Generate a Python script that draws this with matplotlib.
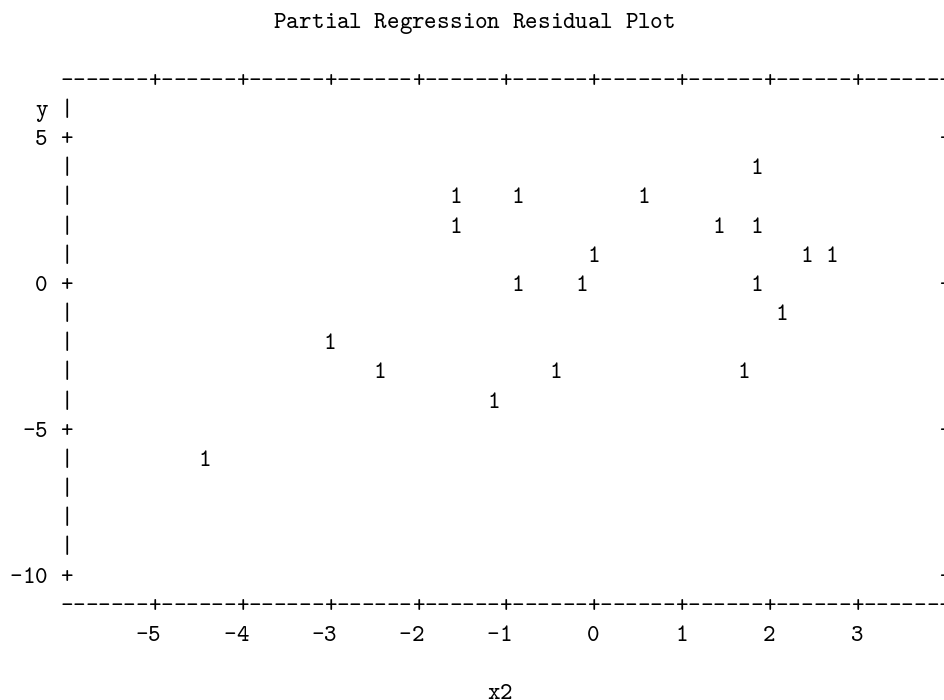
import matplotlib
matplotlib.use("Agg")
import matplotlib.pyplot as plt

# partial regression residuals (one "1" printed per observation)
x2 = [1.86, -1.57, -0.86, 0.57, -1.57, 1.43, 1.86, 0.00, 2.43, 2.71,
      -0.86, -0.14, 1.86, 2.14, -3.00, -2.43, -0.43, 1.71, -1.14, -4.43]
y = [4, 3, 3, 3, 2, 2, 2, 1, 1, 1,
     0, 0, 0, -1, -2, -3, -3, -3, -4, -6]

xticks = [-5, -4, -3, -2, -1, 0, 1, 2, 3]
yticks = [5, 0, -5, -10]

title = "Partial Regression Residual Plot"
xlabel = "x2"
ylabel = "y"

# line-printer grid: 7 print columns per x2 unit, 1 print row per y unit
XLO, XHI = -6, 4
YLO, YHI = -11, 7
CPU = 7
NCOL = (XHI - XLO) * CPU

fig = plt.figure(figsize=(9.45, 7.0), dpi=100)
ax = fig.add_axes([0, 0, 1, 1])
ax.set_xlim(-6.757, 4.0)
ax.set_ylim(-14.27, 9.73)
ax.axis('off')

font = dict(family='cmtt10', size=17.2, color='black')
BASE = 0.247


def col(c):
    return XLO + c / CPU


def put(x, row, ch):
    ax.text(x, row - BASE, ch, ha='center', va='baseline', **font)


def put_str(c0, row, s):
    for i, ch in enumerate(s):
        if ch != ' ':
            put(col(c0 + i), row, ch)


# top and bottom borders
tick_cols = {int(round((t - XLO) * CPU)) for t in xticks}
for c in range(NCOL + 1):
    ch = '+' if c in tick_cols else '-'
    put(col(c), YHI, ch)
    put(col(c), YLO, ch)

# left and right borders
for row in range(YHI - 1, YLO, -1):
    ch = '+' if row in yticks else '|'
    put(col(0), row, ch)
    put(col(NCOL), row, ch)

# tick labels, right-aligned on the tick column
for t in xticks:
    s = str(t)
    c = int(round((t - XLO) * CPU))
    put_str(c - len(s) + 1, YLO - 1, s)
for t in yticks:
    s = str(t)
    put_str(-1 - len(s), t, s)

put_str(-2, YHI - 1, ylabel)
put_str(34, YLO - 3, xlabel)
put_str(17, 9, title)

# the observations
for xv, yv in zip(x2, y):
    put(xv, yv, '1')

fig.savefig('out.png', dpi=100)
